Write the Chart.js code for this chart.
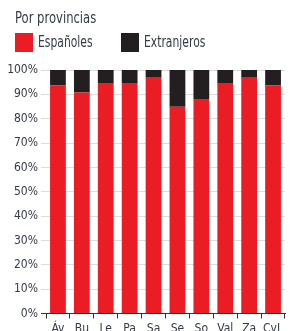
<!DOCTYPE html>
<html>
<head>
<meta charset="utf-8">
<script src="https://cdn.jsdelivr.net/npm/chart.js@4"></script>
<style>
  html, body { margin: 0; padding: 0; background: #fff; overflow: hidden; }
  body { width: 290px; height: 331px; position: relative; font-family: "DejaVu Sans Condensed", "Liberation Sans Narrow", sans-serif; color: #333a48; }
  #title { position: absolute; left: 15px; top: 9px; font-size: 15px; transform: scaleX(0.86); transform-origin: left top; }
  .leg { position: absolute; top: 33px; font-size: 15px; line-height: 19px; }
  .leg span.box { display: inline-block; width: 18px; height: 19px; vertical-align: top; margin-right: 5px; }
  .leg span.txt { display: inline-block; transform: scaleX(0.8); transform-origin: left top; }
  #wrap { position: absolute; left: 0; top: 0; width: 290px; height: 331px; }
</style>
</head>
<body>
<div id="wrap"><canvas id="chart"></canvas></div>
<div id="title">Por provincias</div>
<div class="leg" style="left:15px"><span class="box" style="background:#ec1c24"></span><span class="txt">Españoles</span></div>
<div class="leg" style="left:121px"><span class="box" style="background:#231f20"></span><span class="txt">Extranjeros</span></div>
<script>
const provincias = ['Áv', 'Bu', 'Le', 'Pa', 'Sa', 'Se', 'So', 'Val', 'Za', 'CyL'];
const espanoles = [93.6, 90.8, 94.7, 94.7, 96.8, 84.9, 88.1, 94.7, 96.8, 93.6];
const extranjeros = [6.4, 9.2, 5.3, 5.3, 3.2, 15.1, 11.9, 5.3, 3.2, 6.4];

const textColor = '#333a48';
const font = { family: '"DejaVu Sans Condensed", "Liberation Sans Narrow", sans-serif', size: 12 };

new Chart(document.getElementById('chart'), {
    type: 'bar',
    data: {
        labels: provincias,
        datasets: [
            { label: 'Españoles', data: espanoles, backgroundColor: '#ec1c24' },
            { label: 'Extranjeros', data: extranjeros, backgroundColor: '#231f20' }
        ]
    },
    options: {
        responsive: true,
        maintainAspectRatio: false,
        animation: false,
        layout: { padding: { top: 70, right: 5, left: 0, bottom: 0 } },
        plugins: { legend: { display: false }, title: { display: false }, tooltip: { enabled: false } },
        datasets: { bar: { categoryPercentage: 1, barPercentage: 0.66 } },
        scales: {
            x: {
                stacked: true,
                afterFit: s => { s.height = 17.5; },
                grid: { drawOnChartArea: false, drawTicks: true, tickLength: 5, color: '#333' },
                border: { color: '#333', width: 1 },
                ticks: { color: textColor, font: font, padding: 3, maxRotation: 0, autoSkip: false }
            },
            y: {
                stacked: true,
                min: 0, max: 100,
                afterFit: s => { s.width = 46; },
                border: { display: false },
                grid: {
                    tickLength: 5,
                    color: c => c.tick && c.tick.value === 0 ? '#333' : '#dcdcdc'
                },
                ticks: { stepSize: 10, color: textColor, font: font, padding: 3, callback: v => v + '%' }
            }
        }
    }
});
</script>
</body>
</html>
